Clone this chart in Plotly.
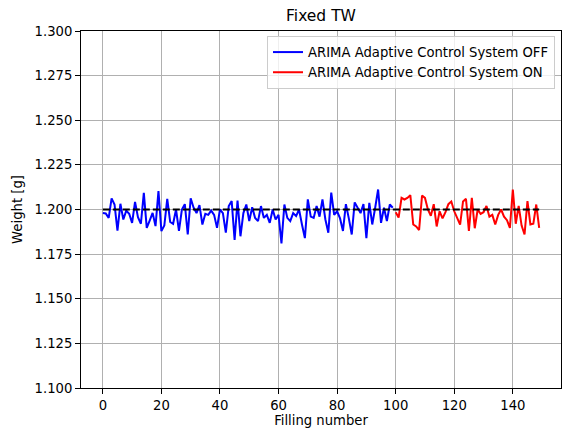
import plotly.graph_objects as go

# Filling weights, adaptive control off (fillings 0-99) and on (100-149)
weights_off = [
    1.1980, 1.1978, 1.1953, 1.2062, 1.2028, 1.1882, 1.2032, 1.1944, 1.1994, 1.1976,
    1.1925, 1.2043, 1.1957, 1.1920, 1.2093, 1.1897, 1.1938, 1.1981, 1.1907, 1.2103,
    1.1879, 1.1910, 1.2060, 1.1930, 1.1920, 1.2000, 1.1880, 1.2000, 1.2030, 1.1860,
    1.2063, 1.2010, 1.1980, 1.2024, 1.1916, 1.1976, 1.1970, 1.1994, 1.1970, 1.1897,
    1.2000, 1.1980, 1.1870, 1.2019, 1.2047, 1.1830, 1.2050, 1.1850, 1.1980, 1.2028,
    1.1935, 1.2013, 1.1953, 1.1935, 1.2019, 1.1953, 1.1970, 1.1925, 1.2000, 1.1944,
    1.1970, 1.1810, 1.2028, 1.1953, 1.1935, 1.1980, 1.1963, 1.2000, 1.1916, 1.1840,
    1.2057, 1.1960, 1.1953, 1.2019, 1.1960, 1.2057, 1.1944, 1.1870, 1.2095, 1.1970,
    1.1990, 1.1950, 1.1880, 1.2030, 1.1950, 1.1860, 1.2040, 1.2010, 1.1980, 1.2030,
    1.1840, 1.2037, 1.1916, 1.2010, 1.2112, 1.1925, 1.2010, 1.1935, 1.2028, 1.2010,
]
weights_on = [
    1.1985, 1.1955, 1.2065, 1.2056, 1.2065, 1.2080, 1.1916, 1.1905, 1.1885, 1.2078,
    1.2065, 1.2000, 1.1965, 1.2030, 1.1905, 1.1990, 1.1950, 1.1985, 1.2030, 1.2045,
    1.1990, 1.1955, 1.1915, 1.2045, 1.2060, 1.1880, 1.2065, 1.1895, 1.2000, 1.1975,
    1.1985, 1.2020, 1.1960, 1.1970, 1.1916, 1.1970, 1.2000, 1.1960, 1.1940, 1.1897,
    1.2112, 1.1920, 1.2020, 1.1910, 1.1860, 1.2047, 1.1916, 1.1920, 1.2028, 1.1897,
]
target_weight = 1.2

fill_off = list(range(len(weights_off)))
fill_on = list(range(len(weights_off), len(weights_off) + len(weights_on)))
fill_all = fill_off + fill_on

x_ticks = [0, 20, 40, 60, 80, 100, 120, 140]
y_ticks = [1.100, 1.125, 1.150, 1.175, 1.200, 1.225, 1.250, 1.275, 1.300]

FONT = "DejaVu Sans"
FS = 13.2

fig = go.Figure()
fig.add_trace(go.Scatter(
    x=fill_off, y=weights_off, mode="lines",
    line=dict(color="#0000ff", width=2),
    name="ARIMA Adaptive Control System OFF",
))
fig.add_trace(go.Scatter(
    x=fill_on, y=weights_on, mode="lines",
    line=dict(color="#ff0000", width=2),
    name="ARIMA Adaptive Control System ON",
))
fig.add_trace(go.Scatter(
    x=[fill_all[0], fill_all[-1]], y=[target_weight, target_weight], mode="lines",
    line=dict(color="black", width=2, dash="7px,3px"),
    showlegend=False, hoverinfo="skip",
))

pad = 0.05 * (fill_all[-1] - fill_all[0])
axis_common = dict(
    showline=True, linecolor="black", linewidth=1, mirror=True,
    ticks="outside", ticklen=5, tickwidth=1, tickcolor="black",
    showgrid=True, gridcolor="#b0b0b0", gridwidth=1,
    zeroline=False,
    tickfont=dict(family=FONT, size=FS, color="black"),
)

fig.update_layout(
    width=562, height=431,
    margin=dict(l=81, r=1, t=31, b=43),
    paper_bgcolor="white", plot_bgcolor="white",
    font=dict(family=FONT, size=FS, color="black"),
    title=dict(text="Fixed TW", xref="paper", x=0.5, xanchor="center",
               yref="container", y=1 - 16 / 431, yanchor="middle",
               font=dict(family=FONT, size=15.5, color="black")),
    xaxis=dict(
        range=[fill_all[0] - pad, fill_all[-1] + pad],
        tickvals=x_ticks, ticktext=[str(v) for v in x_ticks],
        title=dict(text="Filling number", font=dict(family=FONT, size=FS), standoff=3),
        **axis_common,
    ),
    yaxis=dict(
        range=[y_ticks[0], y_ticks[-1]],
        tickvals=y_ticks, ticktext=[f"{v:.3f}" for v in y_ticks],
        title=dict(text="Weight [g]", font=dict(family=FONT, size=FS), standoff=8),
        **axis_common,
    ),
    legend=dict(
        x=0.9875, y=0.986, xanchor="right", yanchor="top",
        bgcolor="rgba(255,255,255,0.8)", bordercolor="#cccccc", borderwidth=1,
        font=dict(family=FONT, size=FS, color="black"),
        tracegroupgap=0, itemwidth=30,
    ),
    showlegend=True,
)

fig.write_html("out.html")
